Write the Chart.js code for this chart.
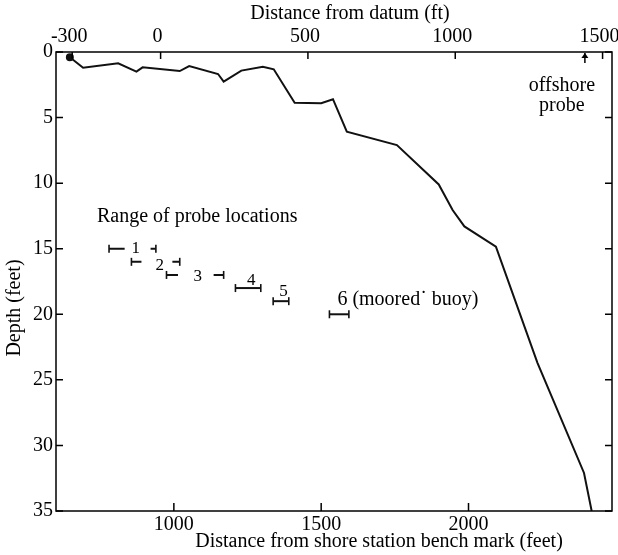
<!DOCTYPE html>
<html>
<head>
<meta charset="utf-8">
<script src="https://cdn.jsdelivr.net/npm/chart.js@4.4.1/dist/chart.umd.min.js"></script>
<style>
  html, body { margin: 0; padding: 0; background: #fff; }
  #wrap { width: 618px; height: 555px; position: relative; }
</style>
</head>
<body>
<div id="wrap"><canvas id="chart"></canvas></div>
<script>
// bottom profile: distance from shore station bench mark (ft) and depth (ft)
const profileDist = [647, 692, 811, 873, 894, 1020, 1052, 1150, 1169, 1229, 1302, 1339, 1410, 1500, 1540, 1587, 1757, 1899, 1946, 1986, 2093, 2234, 2392, 2418];
const profileDepth = [0.4, 1.2, 0.86, 1.5, 1.17, 1.45, 1.07, 1.68, 2.26, 1.42, 1.12, 1.32, 3.87, 3.9, 3.6, 6.08, 7.1, 10.1, 12.05, 13.3, 14.85, 23.7, 32.1, 35];

// range of probe locations
const probeIds = ['1', '2', '3', '4', '5', '6'];
const probeDepth = [15, 16, 17, 18, 19, 20];
const probeFrom = [780, 856, 975, 1209, 1337, 1528];
const probeTo = [939, 1020, 1169, 1295, 1390, 1594];
const probeGapFrom = [833, 890, 1014, null, null, null];
const probeGapTo = [921, 995, 1135, null, null, null];

const bottomTicks = [1000, 1500, 2000];
const topTicks = [-300, 0, 500, 1000, 1500];
const depthTicks = [0, 5, 10, 15, 20, 25, 30, 35];
const datumOffset = 955;   // datum position on the bench mark scale
const offshoreProbe = 2395;

const xMin = 600, xMax = 2487;
const FONT = "'Liberation Serif', 'DejaVu Serif', serif";

const profilePoints = profileDist.map((d, i) => ({ x: d, y: profileDepth[i] }));

const probeSets = probeIds.map((id, i) => {
    const d = probeDepth[i];
    let pts;
    if (probeGapFrom[i] != null) {
        pts = [
            { x: probeFrom[i], y: d },
            { x: probeGapFrom[i], y: d },
            { x: (probeGapFrom[i] + probeGapTo[i]) / 2, y: null },
            { x: probeGapTo[i], y: d },
            { x: probeTo[i], y: d }
        ];
    } else {
        pts = [{ x: probeFrom[i], y: d }, { x: probeTo[i], y: d }];
    }
    return {
        label: 'probe ' + id,
        data: pts,
        showLine: true,
        spanGaps: false,
        borderColor: '#111',
        borderWidth: 2,
        pointStyle: 'line',
        rotation: 90,
        pointBorderColor: '#111',
        pointBorderWidth: 1.6,
        pointRadius: ctx => (ctx.dataIndex === 0 || ctx.dataIndex === pts.length - 1) ? 4 : 0
    };
});

const annotate = {
    id: 'annotate',
    afterDraw(chart) {
        const { ctx, chartArea: a, scales } = chart;
        const x = scales.x, x2 = scales.x2, y = scales.y;
        ctx.save();
        ctx.strokeStyle = '#000';
        ctx.fillStyle = '#000';
        ctx.lineWidth = 1.5;
        ctx.strokeRect(a.left, a.top, a.right - a.left, a.bottom - a.top);

        // inward tick marks
        ctx.beginPath();
        bottomTicks.forEach(v => {
            const px = x.getPixelForValue(v);
            ctx.moveTo(px, a.bottom); ctx.lineTo(px, a.bottom - 8);
        });
        topTicks.forEach(v => {
            const px = x2.getPixelForValue(v);
            ctx.moveTo(px, a.top); ctx.lineTo(px, a.top + 7);
        });
        depthTicks.forEach(v => {
            const py = y.getPixelForValue(v);
            ctx.moveTo(a.left, py); ctx.lineTo(a.left + 7, py);
            ctx.moveTo(a.right, py); ctx.lineTo(a.right - 7, py);
        });
        ctx.stroke();

        // axis titles
        ctx.font = '20px ' + FONT;
        ctx.textAlign = 'center';
        ctx.textBaseline = 'middle';
        ctx.fillText('Distance from datum (ft)', 350, 14);
        ctx.fillText('Distance from shore station bench mark (feet)', 379, 542);
        ctx.save();
        ctx.translate(15, 308);
        ctx.rotate(-Math.PI / 2);
        ctx.fillText('Depth (feet)', 0, 0);
        ctx.restore();

        // offshore probe arrow
        const ax = x.getPixelForValue(offshoreProbe);
        ctx.lineWidth = 1.5;
        ctx.beginPath();
        ctx.moveTo(ax, a.top + 11); ctx.lineTo(ax, a.top + 1);
        ctx.stroke();
        ctx.beginPath();
        ctx.moveTo(ax, a.top + 1); ctx.lineTo(ax - 3.5, a.top + 6); ctx.lineTo(ax + 3.5, a.top + 6);
        ctx.closePath(); ctx.fill();
        ctx.font = '20px ' + FONT;
        ctx.fillText('offshore', ax - 23, 86);
        ctx.fillText('probe', ax - 23, 106);

        // probe labels
        ctx.textAlign = 'left';
        ctx.fillText('Range of probe locations', x.getPixelForValue(739), y.getPixelForValue(12.6));
        ctx.fillText('6 (moored\u02D9 buoy)', x.getPixelForValue(1555), y.getPixelForValue(18.9));
        ctx.textAlign = 'center';
        ctx.font = '17px ' + FONT;
        const numX = [871, 952, 1081, 1263, 1372];
        const numY = [15.0, 16.3, 17.1, 17.4, 18.3];
        numX.forEach((v, i) => {
            ctx.fillText(probeIds[i], x.getPixelForValue(v), y.getPixelForValue(numY[i]));
        });
        ctx.restore();
    }
};

const plain = v => String(v);

new Chart(document.getElementById('chart'), {
    type: 'scatter',
    data: {
        datasets: [
            {
                label: 'bottom profile',
                data: profilePoints,
                showLine: true,
                borderColor: '#111',
                borderWidth: 2,
                pointRadius: ctx => ctx.dataIndex === 0 ? 3 : 0,
                pointBackgroundColor: '#111',
                pointBorderColor: '#111'
            },
            ...probeSets
        ]
    },
    options: {
        responsive: true,
        maintainAspectRatio: false,
        animation: false,
        layout: { padding: { left: 0, right: 5, top: 0, bottom: 0 } },
        plugins: { legend: { display: false }, tooltip: { enabled: false } },
        scales: {
            x: {
                type: 'linear', position: 'bottom', min: xMin, max: xMax,
                afterBuildTicks: s => { s.ticks = bottomTicks.map(v => ({ value: v })); },
                afterFit: s => { s.height = 44; s.paddingLeft = 0; s.paddingRight = 0; },
                grid: { display: false, drawTicks: false },
                border: { display: false },
                ticks: { color: '#000', padding: 2, callback: plain, font: { family: FONT, size: 20 } }
            },
            x2: {
                type: 'linear', position: 'top', min: xMin - datumOffset, max: xMax - datumOffset,
                afterBuildTicks: s => { s.ticks = topTicks.map(v => ({ value: v })); },
                afterFit: s => { s.height = 52; s.paddingLeft = 0; s.paddingRight = 0; },
                grid: { display: false, drawTicks: false },
                border: { display: false },
                ticks: { color: '#000', padding: 3, labelOffset: -3, callback: plain, font: { family: FONT, size: 20 } }
            },
            y: {
                type: 'linear', reverse: true, min: 0, max: 35,
                afterBuildTicks: s => { s.ticks = depthTicks.map(v => ({ value: v })); },
                afterFit: s => { s.width = 56; s.paddingTop = 0; s.paddingBottom = 0; },
                grid: { display: false, drawTicks: false },
                border: { display: false },
                ticks: { color: '#000', padding: 3, callback: plain, font: { family: FONT, size: 20 } }
            }
        }
    },
    plugins: [annotate]
});
</script>
</body>
</html>
